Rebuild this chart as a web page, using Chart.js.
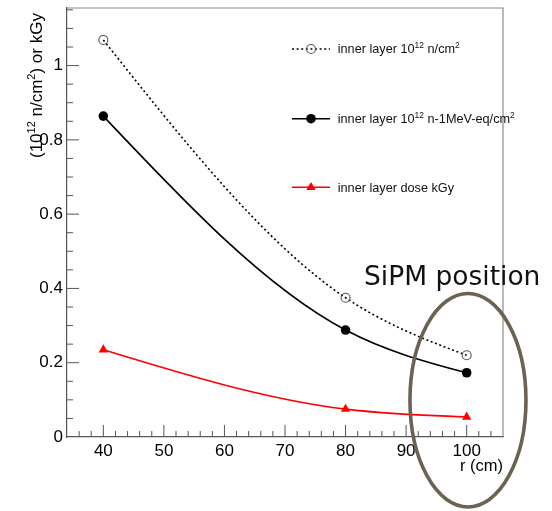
<!DOCTYPE html>
<html>
<head>
<meta charset="utf-8">
<script src="https://cdn.jsdelivr.net/npm/chart.js@4.4.0/dist/chart.umd.min.js"></script>
<style>
  html, body { margin: 0; padding: 0; background: #fff; }
  #wrap { width: 552px; height: 511px; }
</style>
</head>
<body>
<div id="wrap"><canvas id="lineChart" width="552" height="511"></canvas></div>
<script>
// data
const rValues = [40, 80, 100];
const fluence = [1.069, 0.375, 0.220];
const fluenceEq = [0.864, 0.288, 0.173];
const dose = [0.235, 0.075, 0.054];

// axis ticks
const xTicks = [40, 50, 60, 70, 80, 90, 100];
const yTicks = [0, 0.2, 0.4, 0.6, 0.8, 1];
const xMinorStep = 2;
const yMinorStep = 0.05;

// texts, [text, superscript?]
const seriesLabels = [
  [['inner layer 10', false], ['12', true], [' n/cm', false], ['2', true]],
  [['inner layer 10', false], ['12', true], [' n-1MeV-eq/cm', false], ['2', true]],
  [['inner layer dose kGy', false]]
];
const yTitle = [['(10', false], ['12', true], [' n/cm', false], ['2', true], [') or kGy', false]];
const xTitle = 'r (cm)';
const noteText = 'SiPM position';

const FONT = '"Liberation Sans", Arial, sans-serif';

function toPoints(ys) {
  return rValues.map((r, i) => ({ x: r, y: ys[i] }));
}

// superscript text helper
function drawRich(ctx, parts, x, y, size, supSize, rise) {
  parts.forEach(p => {
    ctx.font = (p[1] ? supSize : size) + 'px ' + FONT;
    ctx.fillText(p[0], x, p[1] ? y - rise : y);
    x += ctx.measureText(p[0]).width;
  });
}

// slopes of a natural cubic spline (the smooth curve option of ROOT)
function splineSlopes(xs, ys) {
  const n = xs.length;
  let h = [], d = [];
  for (let i = 0; i < n - 1; i++) {
    h.push(xs[i + 1] - xs[i]);
    d.push((ys[i + 1] - ys[i]) / h[i]);
  }
  let M = new Array(n).fill(0);
  if (n > 2) {
    let a = [], b = [], c = [], r = [];
    for (let i = 1; i < n - 1; i++) {
      a.push(h[i - 1]); b.push(2 * (h[i - 1] + h[i])); c.push(h[i]); r.push(6 * (d[i] - d[i - 1]));
    }
    const m = b.length;
    for (let i = 1; i < m; i++) {
      let w = a[i] / b[i - 1];
      b[i] -= w * c[i - 1];
      r[i] -= w * r[i - 1];
    }
    M[m] = r[m - 1] / b[m - 1];
    for (let i = m - 2; i >= 0; i--) M[i + 1] = (r[i] - c[i] * M[i + 2]) / b[i];
  }
  let s = [];
  for (let i = 0; i < n - 1; i++) s.push(d[i] - h[i] * (2 * M[i] + M[i + 1]) / 6);
  s.push(d[n - 2] + h[n - 2] * (M[n - 2] + 2 * M[n - 1]) / 6);
  return s;
}

// replace Chart.js bezier control points with the spline ones
const smoothCurve = {
  id: 'smoothCurve',
  beforeDatasetDraw(chart, args) {
    const meta = args.meta;
    const pts = meta.data;
    if (pts.length < 2) return;
    meta.dataset.updateControlPoints(chart.chartArea, 'x');
    const px = pts.map(p => p.x);
    const py = pts.map(p => p.y);
    const s = splineSlopes(px, py);
    for (let i = 0; i < pts.length; i++) {
      let hPrev = i > 0 ? px[i] - px[i - 1] : 0;
      let hNext = i < pts.length - 1 ? px[i + 1] - px[i] : 0;
      pts[i].cp1x = px[i] - hPrev / 3;
      pts[i].cp1y = py[i] - s[i] * hPrev / 3;
      pts[i].cp2x = px[i] + hNext / 3;
      pts[i].cp2y = py[i] + s[i] * hNext / 3;
    }
  }
};

// ROOT-like frame, inward ticks, titles, legend and the note
const rootStyle = {
  id: 'rootStyle',
  afterDraw(chart) {
    const ctx = chart.ctx;
    const a = chart.chartArea;
    const xs = chart.scales.x;
    const ys = chart.scales.y;
    ctx.save();

    // top / right frame
    ctx.strokeStyle = '#8a8a8a';
    ctx.lineWidth = 1.2;
    ctx.beginPath();
    ctx.moveTo(a.left, a.top);
    ctx.lineTo(a.right, a.top);
    ctx.lineTo(a.right, a.bottom);
    ctx.stroke();

    // ticks
    ctx.strokeStyle = '#555';
    ctx.lineWidth = 1;
    ctx.beginPath();
    for (let v = Math.floor(xs.min / xMinorStep + 1) * xMinorStep; v < xs.max; v += xMinorStep) {
      let px = xs.getPixelForValue(v);
      let len = xTicks.includes(v) ? 12 : 6;
      ctx.moveTo(px, a.bottom);
      ctx.lineTo(px, a.bottom - len);
    }
    for (let i = 1; i * yMinorStep < ys.max; i++) {
      let py = ys.getPixelForValue(i * yMinorStep);
      let len = (i % 4 == 0) ? 12 : 6;
      ctx.moveTo(a.left, py);
      ctx.lineTo(a.left + len, py);
    }
    ctx.stroke();

    // axis titles
    ctx.fillStyle = '#000';
    ctx.textAlign = 'left';
    ctx.textBaseline = 'alphabetic';
    ctx.save();
    ctx.translate(42, 158);
    ctx.rotate(-Math.PI / 2);
    drawRich(ctx, yTitle, 0, 0, 17, 11, 7);
    ctx.restore();

    ctx.font = '16.5px ' + FONT;
    ctx.textAlign = 'right';
    ctx.fillText(xTitle, a.right, 471);
    ctx.textAlign = 'left';

    // legend
    const rows = [49, 118.7, 187.3];
    chart.data.datasets.forEach((ds, i) => {
      let y = rows[i];
      ctx.strokeStyle = ds.borderColor;
      ctx.lineWidth = ds.borderWidth;
      ctx.setLineDash(ds.borderDash || []);
      ctx.beginPath();
      ctx.moveTo(292, y);
      ctx.lineTo(330, y);
      ctx.stroke();
      ctx.setLineDash([]);
      ctx.fillStyle = ds.pointBackgroundColor;
      ctx.strokeStyle = ds.pointBorderColor;
      ctx.lineWidth = ds.pointBorderWidth;
      Chart.helpers.drawPoint(ctx, {
        pointStyle: ds.pointStyle, rotation: 0,
        radius: ds.pointRadius, borderWidth: ds.pointBorderWidth
      }, 311, y);
      ctx.fillStyle = '#111';
      drawRich(ctx, seriesLabels[i], 337.7, y + 4.3, 12.7, 8.5, 5);
    });

    // note and ellipse
    ctx.fillStyle = '#111';
    ctx.font = '26.5px "DejaVu Sans", sans-serif';
    ctx.fillText(noteText, 364, 284.5);

    ctx.strokeStyle = '#6b6251';
    ctx.lineWidth = 3.6;
    ctx.beginPath();
    ctx.ellipse(xs.getPixelForValue(100) + 1.3, ys.getPixelForValue(0.099), 58, 106.7, 0, 0, Math.PI * 2);
    ctx.stroke();

    ctx.restore();
  }
};

let lineCtx = document.getElementById('lineChart');
let lineChart = new Chart(lineCtx, {
  type: 'line',
  data: {
    datasets: [{
      label: 'inner layer 10¹² n/cm²',
      data: toPoints(fluence),
      borderColor: '#000',
      borderWidth: 1.6,
      borderDash: [2, 2.6],
      pointStyle: 'circle',
      pointRadius: 4.5,
      pointBorderWidth: 1.1,
      pointBorderColor: '#555',
      pointBackgroundColor: 'rgba(255,255,255,0)',
      tension: 0.4
    }, {
      label: 'inner layer 10¹² n-1MeV-eq/cm²',
      data: toPoints(fluenceEq),
      borderColor: '#000',
      borderWidth: 1.6,
      pointStyle: 'circle',
      pointRadius: 4.8,
      pointBorderWidth: 0,
      pointBorderColor: '#000',
      pointBackgroundColor: '#000',
      tension: 0.4
    }, {
      label: 'inner layer dose kGy',
      data: toPoints(dose),
      borderColor: '#ff0000',
      borderWidth: 1.6,
      pointStyle: 'triangle',
      pointRadius: 5.4,
      pointBorderWidth: 0,
      pointBorderColor: '#ff0000',
      pointBackgroundColor: '#ff0000',
      tension: 0.4
    }]
  },
  options: {
    responsive: false,
    animation: false,
    devicePixelRatio: 1,
    events: [],
    layout: { padding: { top: 8, right: 49, left: 0, bottom: 0 } },
    plugins: { legend: { display: false }, tooltip: { enabled: false } },
    scales: {
      x: {
        type: 'linear',
        min: 34,
        max: 106,
        afterBuildTicks: s => { s.ticks = xTicks.map(v => ({ value: v })); },
        afterFit: s => { s.height = 74; s.paddingLeft = 0; s.paddingRight = 0; },
        grid: { display: false, drawTicks: false },
        border: { display: true, color: '#555', width: 1.2 },
        ticks: {
          font: { family: FONT, size: 17 },
          color: '#000',
          padding: 4,
          maxRotation: 0,
          autoSkip: false,
          callback: v => String(v)
        }
      },
      y: {
        type: 'linear',
        min: 0,
        max: 1.155,
        afterBuildTicks: s => { s.ticks = yTicks.map(v => ({ value: v })); },
        afterFit: s => { s.width = 67; s.paddingTop = 0; s.paddingBottom = 0; },
        grid: { display: false, drawTicks: false },
        border: { display: true, color: '#555', width: 1.2 },
        ticks: {
          font: { family: FONT, size: 17 },
          color: '#000',
          padding: 4,
          autoSkip: false,
          callback: v => String(Math.round(v * 10) / 10)
        }
      }
    }
  },
  plugins: [smoothCurve, rootStyle]
});
</script>
</body>
</html>
